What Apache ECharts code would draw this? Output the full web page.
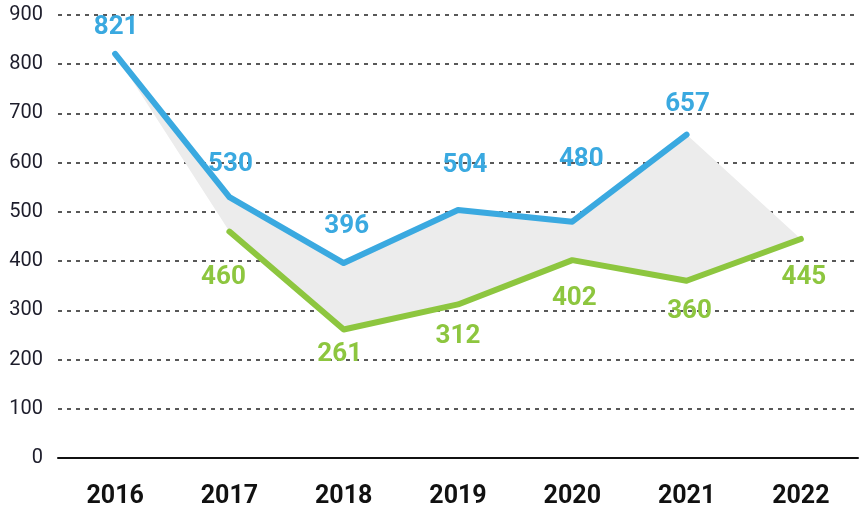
<!DOCTYPE html>
<html>
<head>
<meta charset="utf-8">
<script src="https://cdn.jsdelivr.net/npm/echarts@6/dist/echarts.min.js"></script>
<style>
  html, body { margin: 0; padding: 0; background: #fff; }
  #chart { width: 859px; height: 509px; }
</style>
</head>
<body>
<div id="chart"></div>
<script>
const years = ['2016', '2017', '2018', '2019', '2020', '2021', '2022'];
const blueValues = [821, 530, 396, 504, 480, 657, null];
const greenValues = [null, 460, 261, 312, 402, 360, 445];

const BLUE = '#3aa9e0';
const GREEN = '#8dc63f';
const FONT = 'Roboto, "Liberation Sans", sans-serif';

// label nudges (dx, dy from the point), hand-placed like the original
const blueLabelOff = [[1, -26], [1, -33], [3, -37], [7, -44], [9, -62], [1, -30]];
const greenLabelOff = [null, [-6, 46], [-4, 25], [0, 32], [2, 38], [3, 31], [3, 39]];

// shaded band: lower/upper envelopes of the two lines
const lower = years.map((_, i) => greenValues[i] ?? blueValues[i]);
const upper = years.map((_, i) => blueValues[i] ?? greenValues[i]);
const band = upper.map((u, i) => u - lower[i]);

const withLabels = (vals, offs) => vals.map((v, i) => v == null ? null : ({
  value: v,
  label: { offset: offs[i] },
}));

const chart = echarts.init(document.getElementById('chart'));
chart.setOption({
  animation: false,
  grid: { left: 58, right: 1, top: 15, bottom: 50 },
  xAxis: {
    type: 'category',
    data: years,
    axisLine: { lineStyle: { color: '#111', width: 2 } },
    axisTick: { show: false },
    axisLabel: { color: '#111', fontFamily: FONT, fontWeight: 'bold', fontSize: 25, margin: 26 },
  },
  yAxis: {
    type: 'value',
    min: 0, max: 900, interval: 100,
    axisLine: { show: false },
    axisTick: { show: false },
    axisLabel: { color: '#1d1d2b', fontFamily: FONT, fontSize: 20, margin: 15 },
    splitLine: { lineStyle: { color: '#222', width: 1.5, type: [4, 5] } },
  },
  series: [
    {
      type: 'line', stack: 'band', data: lower, symbol: 'none',
      lineStyle: { opacity: 0 }, silent: true,
    },
    {
      type: 'line', stack: 'band', data: band, symbol: 'none',
      lineStyle: { opacity: 0 }, areaStyle: { color: '#ececec', opacity: 1 }, silent: true,
    },
    {
      type: 'line', data: withLabels(greenValues, greenLabelOff),
      symbol: 'circle', symbolSize: 1, itemStyle: { color: GREEN },
      lineStyle: { color: GREEN, width: 6, cap: 'round', join: 'round' },
      label: { show: true, position: 'inside', color: GREEN, fontFamily: FONT, fontWeight: 'bold', fontSize: 26 },
      z: 3,
    },
    {
      type: 'line', data: withLabels(blueValues, blueLabelOff),
      symbol: 'circle', symbolSize: 1, itemStyle: { color: BLUE },
      lineStyle: { color: BLUE, width: 6, cap: 'round', join: 'round' },
      label: { show: true, position: 'inside', color: BLUE, fontFamily: FONT, fontWeight: 'bold', fontSize: 26 },
      z: 4,
    },
  ],
});
</script>
</body>
</html>
